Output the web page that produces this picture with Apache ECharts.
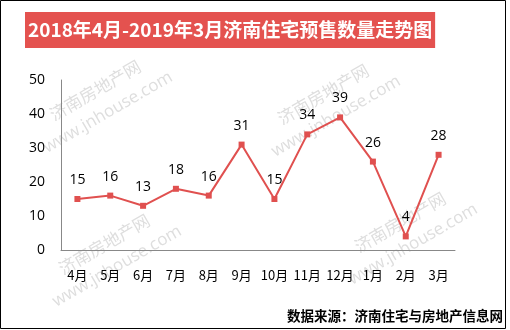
<!DOCTYPE html>
<html>
<head>
<meta charset="utf-8">
<script src="https://cdn.jsdelivr.net/npm/echarts@6/dist/echarts.min.js"></script>
<style>html,body{margin:0;padding:0;background:#fff;}#main{width:510px;height:330px;}</style>
</head>
<body>
<div id="main"></div>
<script>
var categories = ['4月','5月','6月','7月','8月','9月','10月','11月','12月','1月','2月','3月'];
var presaleCounts = [15,16,13,18,16,31,15,34,39,26,4,28];
var titleText = '2018年4月-2019年3月济南住宅预售数量走势图';
var sourceText = '数据来源：济南住宅与房地产信息网';
var watermarkText = '济南房地产网\nwww.jnhouse.com';
var watermarkCenters = [[102,102],[330,106],[111,256],[407,234]];

var chart = echarts.init(document.getElementById('main'), null, {renderer:'canvas'});
var wm = watermarkCenters.map(function(c){
  return {
    type:'text', x:c[0], y:c[1], rotation: Math.PI/6, z:0,
    style:{text:watermarkText, fill:'#dedede', font:'17px "Open Sans", "Noto Sans CJK SC", sans-serif',
      textAlign:'center', textVerticalAlign:'middle', lineHeight:24}
  };
});
chart.setOption({
  backgroundColor:'#fff',
  animation:false,
  title:{
    text:titleText, left:25, top:12,
    backgroundColor:'#e4524f', padding:[7,3,7,3],
    textStyle:{color:'#fff', fontSize:19, fontWeight:'bold', fontFamily:'"Noto Sans CJK SC", sans-serif', lineHeight:22}
  },
  graphic: wm.concat([
    {type:'rect', shape:{x:0.5,y:0.5,width:505,height:328}, style:{fill:null, stroke:'#000', lineWidth:1}, z:100},
    {type:'text', right:7, top:309, z:100,
      style:{text:sourceText, fill:'#000', font:'bold 13.5px "Noto Sans CJK SC", sans-serif'}}
  ]),
  grid:{left:61, top:80, width:394, height:170},
  xAxis:{
    type:'category', data:categories, boundaryGap:true,
    axisLine:{lineStyle:{color:'#888', width:1}},
    axisTick:{show:false},
    axisLabel:{color:'#000', fontSize:13, margin:19, interval:0, fontFamily:'"Noto Sans CJK SC", sans-serif'}
  },
  yAxis:{
    type:'value', min:0, max:50, interval:10,
    axisLine:{show:true, lineStyle:{color:'#888', width:1}},
    axisTick:{show:false},
    splitLine:{show:false},
    axisLabel:{color:'#000', fontSize:14, margin:16, fontFamily:'"Open Sans", sans-serif'}
  },
  series:[{
    type:'line', data:presaleCounts, z:5,
    symbol:'rect', symbolSize:6,
    lineStyle:{color:'#e0504f', width:2},
    itemStyle:{color:'#e0504f'},
    label:{show:true, position:'top', distance:9, color:'#000', fontSize:14, fontFamily:'"Open Sans", sans-serif'}
  }]
});
</script>
</body>
</html>
